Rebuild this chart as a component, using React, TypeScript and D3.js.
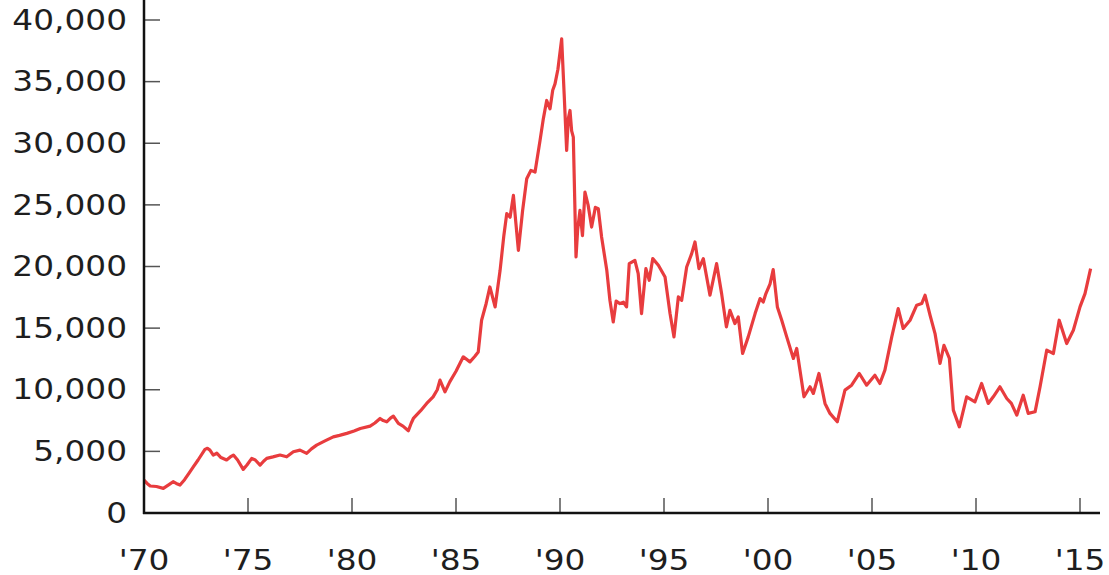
import React, { useEffect, useRef } from "react";
import * as d3 from "d3";

const years: number[] = [
  1970.0, 1970.15, 1970.3, 1970.6, 1970.93, 1971.2, 1971.4, 1971.55, 1971.73, 1971.95,
  1972.15, 1972.37, 1972.6, 1972.93, 1973.05, 1973.17, 1973.33, 1973.5, 1973.7, 1973.97,
  1974.15, 1974.3, 1974.5, 1974.77, 1974.95, 1975.18, 1975.35, 1975.58, 1975.75, 1975.9,
  1976.2, 1976.54, 1976.86, 1977.18, 1977.5, 1977.82, 1978.05, 1978.3, 1978.7, 1979.1,
  1979.4, 1979.75, 1980.1, 1980.4, 1980.87, 1981.1, 1981.35, 1981.5, 1981.67, 1981.85,
  1981.99, 1982.23, 1982.45, 1982.71, 1982.85, 1982.95, 1983.3, 1983.59, 1983.9, 1984.1,
  1984.23, 1984.47, 1984.7, 1985.0, 1985.35, 1985.67, 1985.9, 1986.07, 1986.23, 1986.45,
  1986.63, 1986.88, 1987.12, 1987.3, 1987.44, 1987.6, 1987.76, 1987.88, 1988.0, 1988.2,
  1988.4, 1988.6, 1988.8, 1989.04, 1989.2, 1989.36, 1989.52, 1989.65, 1989.76, 1989.9,
  1990.08, 1990.2, 1990.32, 1990.4, 1990.48, 1990.56, 1990.64, 1990.77, 1990.85, 1990.96,
  1991.08, 1991.2, 1991.35, 1991.52, 1991.7, 1991.84, 1992.0, 1992.25, 1992.4, 1992.56,
  1992.7, 1992.88, 1993.05, 1993.2, 1993.33, 1993.6, 1993.76, 1993.92, 1994.13, 1994.29,
  1994.46, 1994.73, 1995.05, 1995.29, 1995.48, 1995.69, 1995.85, 1996.09, 1996.33, 1996.49,
  1996.68, 1996.89, 1997.21, 1997.53, 1997.77, 1998.0, 1998.17, 1998.41, 1998.57, 1998.78,
  1999.05, 1999.38, 1999.62, 1999.77, 1999.9, 2000.1, 2000.25, 2000.45, 2000.66, 2000.9,
  2001.22, 2001.38, 2001.73, 2002.02, 2002.18, 2002.45, 2002.74, 2002.98, 2003.33, 2003.7,
  2004.02, 2004.39, 2004.74, 2005.14, 2005.38, 2005.62, 2005.95, 2006.26, 2006.5, 2006.83,
  2007.15, 2007.39, 2007.55, 2007.79, 2008.03, 2008.27, 2008.46, 2008.72, 2008.91, 2009.2,
  2009.55, 2009.95, 2010.27, 2010.59, 2010.83, 2011.15, 2011.48, 2011.7, 2011.96, 2012.27,
  2012.51, 2012.84, 2013.08, 2013.4, 2013.72, 2014.0, 2014.36, 2014.68, 2015.0, 2015.24,
  2015.51,
];

const values: number[] = [
  2670, 2400, 2190, 2150, 2000, 2300, 2540, 2400, 2270, 2700,
  3200, 3750, 4300, 5160, 5250, 5100, 4700, 4850, 4500, 4300,
  4550, 4700, 4300, 3540, 3900, 4430, 4300, 3890, 4200, 4430,
  4550, 4700, 4560, 4970, 5100, 4840, 5200, 5510, 5850, 6180,
  6300, 6460, 6650, 6860, 7050, 7300, 7670, 7500, 7400, 7700,
  7860, 7270, 7050, 6670, 7300, 7670, 8300, 8890, 9420, 10000,
  10780, 9830, 10640, 11500, 12670, 12260, 12700, 13070, 15640, 17000,
  18340, 16720, 19690, 22500, 24290, 24000, 25770, 23500, 21310, 24500,
  27120, 27800, 27660, 30230, 32000, 33470, 32790, 34300, 34820, 36000,
  38470, 34000, 29420, 32000, 32660, 31000, 30500, 20770, 23000, 24550,
  22500, 26040, 25000, 23200, 24800, 24690, 22390, 19690, 17260, 15500,
  17200, 16990, 17100, 16720, 20230, 20500, 19420, 16180, 19830, 18880,
  20640, 20100, 19150, 16180, 14290, 17530, 17260, 19960, 21040, 21990,
  19830, 20640, 17670, 20230, 17800, 15100, 16450, 15370, 15910, 12940,
  14290, 16180, 17400, 17120, 17800, 18600, 19750, 16720, 15640, 14290,
  12540, 13350, 9430, 10240, 9700, 11320, 8890, 8080, 7400, 9970,
  10370, 11320, 10370, 11180, 10510, 11590, 14290, 16590, 14970, 15640,
  16860, 16990, 17670, 16050, 14560, 12130, 13610, 12540, 8350, 6990,
  9430, 9020, 10510, 8890, 9430, 10240, 9290, 8890, 7940, 9560,
  8080, 8210, 10240, 13210, 12940, 15640, 13750, 14830, 16720, 17800,
  19830,
];

const yTicks: number[] = [0, 5000, 10000, 15000, 20000, 25000, 30000, 35000, 40000];
const xTicks: number[] = [1970, 1975, 1980, 1985, 1990, 1995, 2000, 2005, 2010, 2015];
const xTickLabels: string[] = ["'70", "'75", "'80", "'85", "'90", "'95", "'00", "'05", "'10", "'15"];

const W = 1109;
const H = 575;

export default function App() {
  const ref = useRef<SVGSVGElement | null>(null);

  useEffect(() => {
    const svg = d3.select(ref.current);
    svg.selectAll("*").remove();

    const x = d3.scaleLinear().domain([1970, 2015]).range([144, 1080]);
    const y = d3.scaleLinear().domain([0, 40000]).range([513, 20]);

    svg.append("rect").attr("width", W).attr("height", H).attr("fill", "#ffffff");

    const data = years.map((yr, i) => ({ yr, v: values[i] }));

    const line = d3
      .line<{ yr: number; v: number }>()
      .x((d) => x(d.yr))
      .y((d) => y(d.v));
    svg
      .append("path")
      .datum(data)
      .attr("d", line)
      .attr("fill", "none")
      .attr("stroke", "#e83c3e")
      .attr("stroke-width", 3.2)
      .attr("stroke-linejoin", "round");

    const gy = svg.append("g");
    yTicks.forEach((t) => {
      if (t > 0) {
        gy.append("line")
          .attr("x1", 145)
          .attr("x2", 160)
          .attr("y1", y(t))
          .attr("y2", y(t))
          .attr("stroke", "#555")
          .attr("stroke-width", 1.5);
      }
      gy.append("text")
        .attr("transform", `translate(127,${y(t)}) scale(1.17,1)`)
        .attr("text-anchor", "end")
        .attr("dominant-baseline", "central")
        .attr("font-family", "'DejaVu Sans', Verdana, sans-serif")
        .attr("font-size", 28)
        .attr("fill", "#1e1e1e")
        .text(d3.format(",")(t));
    });

    const gx = svg.append("g");
    xTicks.forEach((t, i) => {
      if (i > 0) {
        gx.append("line")
          .attr("x1", x(t))
          .attr("x2", x(t))
          .attr("y1", 498)
          .attr("y2", 512)
          .attr("stroke", "#555")
          .attr("stroke-width", 1.5);
      }
      gx.append("text")
        .attr("transform", `translate(${x(t)},560) scale(1.17,1)`)
        .attr("text-anchor", "middle")
        .attr("dominant-baseline", "central")
        .attr("font-family", "'DejaVu Sans', Verdana, sans-serif")
        .attr("font-size", 28)
        .attr("fill", "#1e1e1e")
        .text(xTickLabels[i]);
    });

    svg.append("line")
      .attr("x1", 144).attr("x2", 144).attr("y1", 0).attr("y2", 514)
      .attr("stroke", "#111").attr("stroke-width", 2.5);
    svg.append("line")
      .attr("x1", 143).attr("x2", 1100).attr("y1", 513).attr("y2", 513)
      .attr("stroke", "#111").attr("stroke-width", 2.5);
  }, []);

  return (
    <svg
      ref={ref}
      width={W}
      height={H}
      style={{ position: "absolute", left: 0, top: 0, display: "block" }}
    />
  );
}
